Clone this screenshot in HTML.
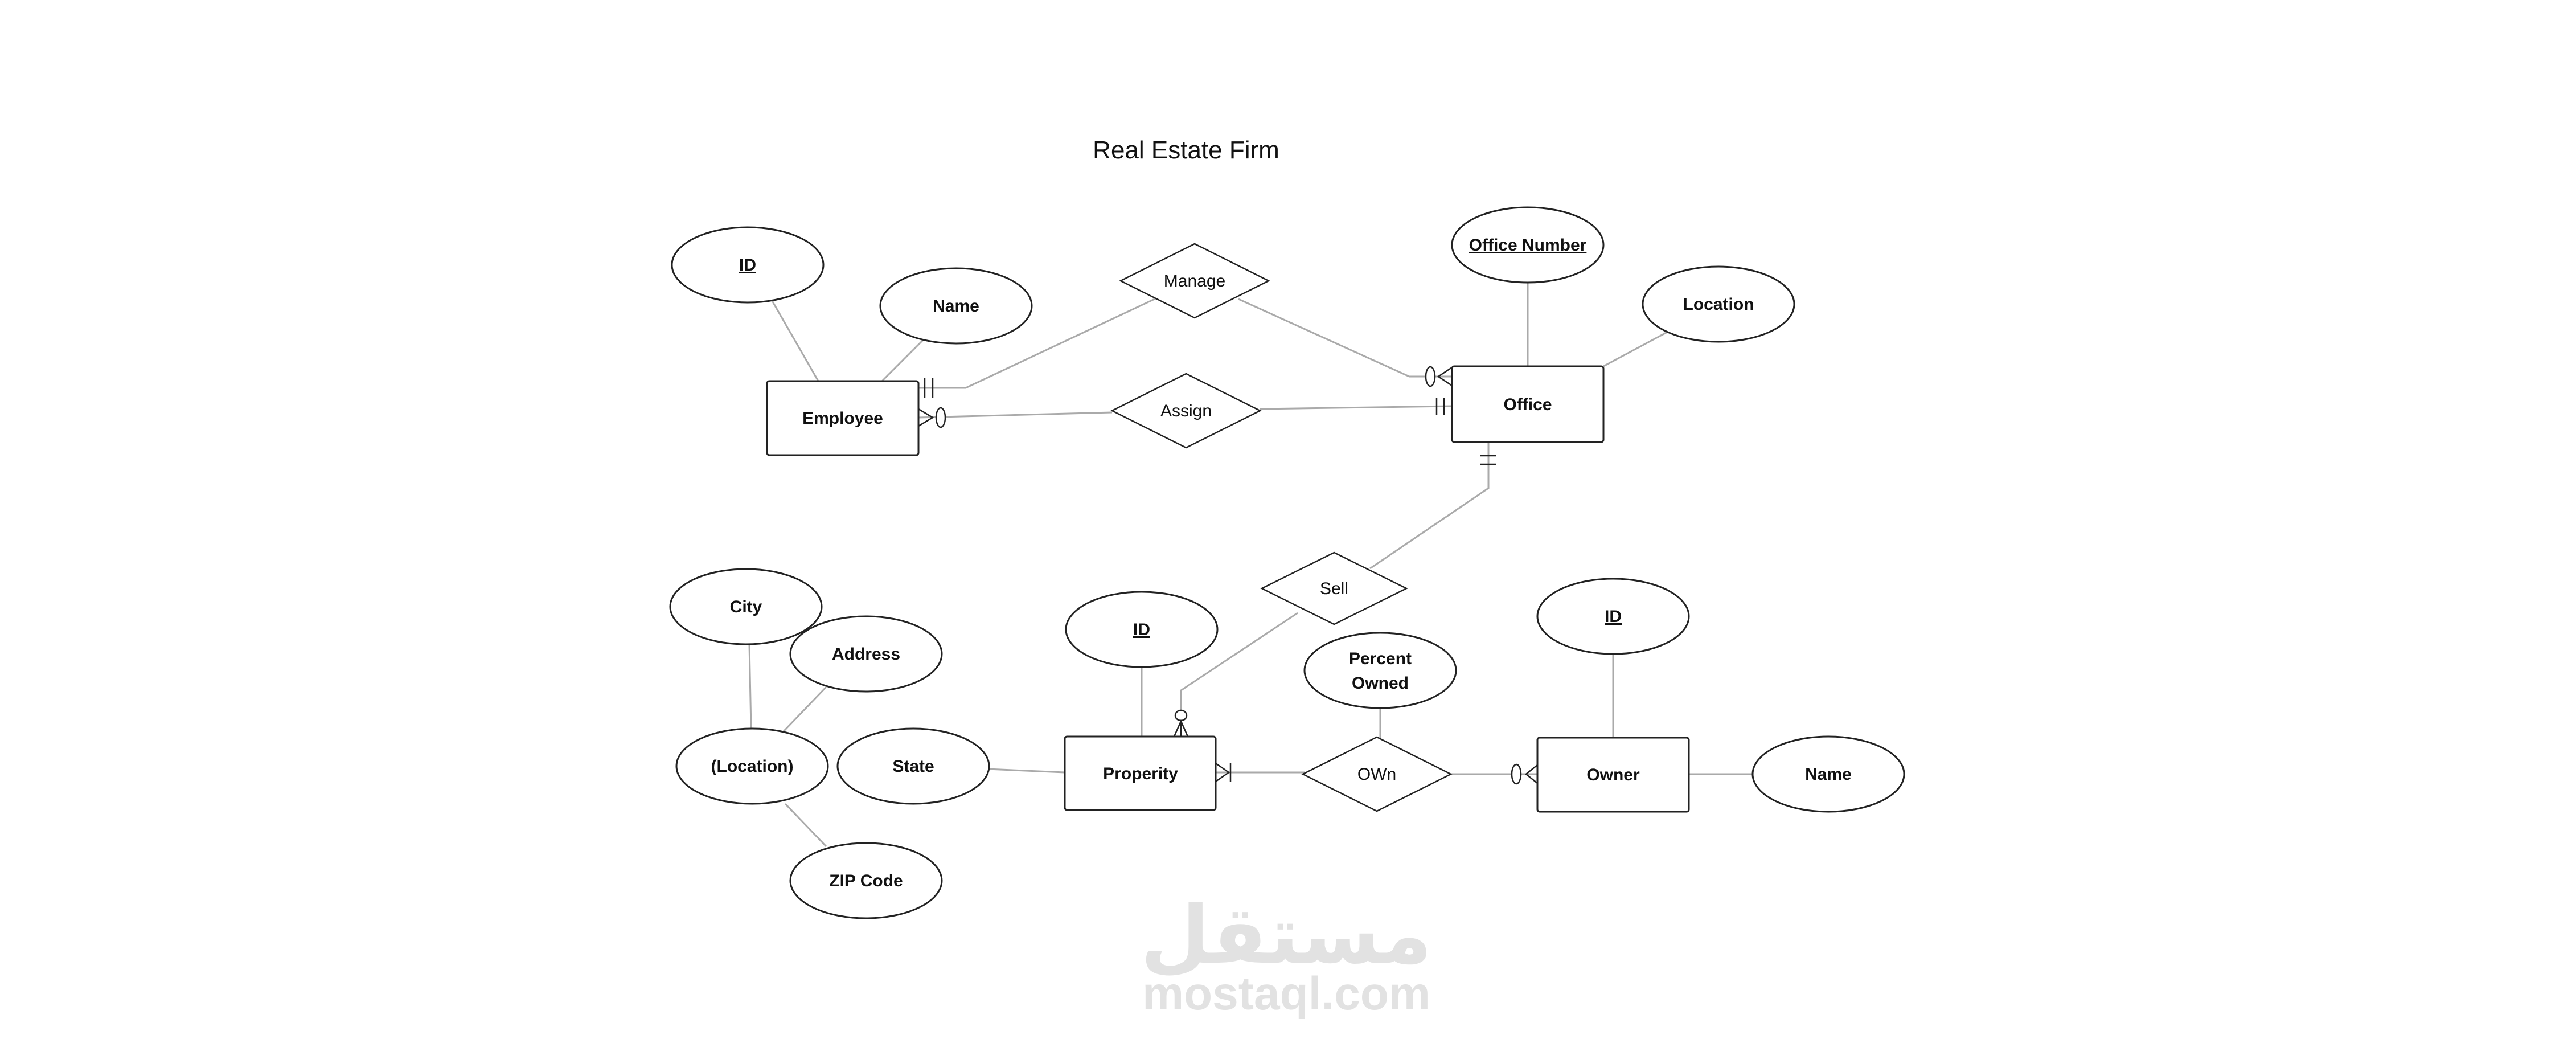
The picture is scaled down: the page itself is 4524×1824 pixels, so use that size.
<!DOCTYPE html>
<html><head><meta charset="utf-8"><style>
html,body{margin:0;padding:0;background:#fff;}
svg{display:block;}
text{font-family:"Liberation Sans","DejaVu Sans",sans-serif;}
</style></head><body>
<svg width="4524" height="1824" viewBox="0 0 4524 1824" xmlns="http://www.w3.org/2000/svg">
<rect width="4524" height="1824" fill="#fff"/>
<text x="2083" y="278" font-size="44" text-anchor="middle" fill="#111">Real Estate Firm</text>

<!-- watermark -->
<text x="2259" y="1690" font-size="140" font-weight="bold" text-anchor="middle" fill="#e2e2e2" font-family="'DejaVu Sans',sans-serif">مستقل</text>
<text x="2259" y="1772" font-size="82" font-weight="bold" text-anchor="middle" fill="#e2e2e2">mostaql.com</text>

<!-- connectors -->
<g stroke="#aaa" stroke-width="3" fill="none">
<line x1="1356" y1="528" x2="1437" y2="669"/>
<line x1="1621" y1="597" x2="1549" y2="669"/>
<polyline points="1613,681 1696,681 2034,522"/>
<polyline points="2175,525 2475,661 2550,661"/>
<line x1="1613" y1="733" x2="1953" y2="724"/>
<line x1="2213" y1="718" x2="2550" y2="713"/>
<line x1="2683" y1="496" x2="2683" y2="643"/>
<line x1="2928" y1="583" x2="2816" y2="643"/>
<polyline points="2614,776 2614,857 2406,998"/>
<polyline points="2279,1076 2074,1212 2074,1293"/>
<line x1="2005" y1="1171" x2="2005" y2="1293"/>
<line x1="1316" y1="1131" x2="1319" y2="1279"/>
<line x1="1451" y1="1206" x2="1376" y2="1284"/>
<line x1="1379" y1="1411" x2="1451" y2="1486"/>
<line x1="1734" y1="1350" x2="1870" y2="1356"/>
<line x1="2135" y1="1356" x2="2291" y2="1356"/>
<line x1="2548" y1="1359" x2="2700" y2="1359"/>
<line x1="2424" y1="1243" x2="2424" y2="1295"/>
<line x1="2833" y1="1148" x2="2833" y2="1295"/>
<line x1="2966" y1="1359" x2="3078" y2="1359"/>
</g>

<!-- cardinality marks -->
<g stroke="#222" stroke-width="2.5" fill="#fff">
<line x1="1624" y1="664" x2="1624" y2="698"/>
<line x1="1638" y1="664" x2="1638" y2="698"/>
<polyline points="1613,718 1638,733 1613,748" fill="none"/>
<ellipse cx="1652" cy="733" rx="8" ry="17"/>
<ellipse cx="2512" cy="661" rx="8" ry="17"/>
<polyline points="2550,645 2526,661 2550,677" fill="none"/>
<line x1="2523" y1="698" x2="2523" y2="728"/>
<line x1="2536" y1="698" x2="2536" y2="728"/>
<line x1="2600" y1="800" x2="2628" y2="800"/>
<line x1="2600" y1="815" x2="2628" y2="815"/>
<ellipse cx="2074" cy="1256" rx="10" ry="9"/>
<polyline points="2062,1293 2074,1266 2086,1293" fill="none"/>
<line x1="2074" y1="1266" x2="2074" y2="1293"/>
<polyline points="2135,1340 2158,1356 2135,1372" fill="none"/>
<line x1="2161" y1="1340" x2="2161" y2="1372"/>
<ellipse cx="2663" cy="1359" rx="8" ry="17"/>
<polyline points="2700,1343 2680,1359 2700,1375" fill="none"/>
</g>

<!-- entities -->
<g stroke="#222" stroke-width="3" fill="#fff">
<rect x="1347" y="669" width="266" height="130" rx="4"/>
<rect x="2550" y="643" width="266" height="133" rx="4"/>
<rect x="1870" y="1293" width="265" height="129" rx="4"/>
<rect x="2700" y="1295" width="266" height="130" rx="4"/>
</g>

<!-- relationships -->
<g stroke="#222" stroke-width="2.5" fill="#fff">
<polygon points="2098,428 2228,493 2098,558 1968,493"/>
<polygon points="2083,656 2213,721 2083,786 1953,721"/>
<polygon points="2343,970 2470,1033 2343,1096 2216,1033"/>
<polygon points="2418,1294 2548,1359 2418,1424 2288,1359"/>
</g>

<!-- attributes -->
<g stroke="#222" stroke-width="3" fill="#fff">
<ellipse cx="1313" cy="465" rx="133" ry="66"/>
<ellipse cx="1679" cy="537" rx="133" ry="66"/>
<ellipse cx="2683" cy="430" rx="133" ry="66"/>
<ellipse cx="3018" cy="534" rx="133" ry="66"/>
<ellipse cx="1310" cy="1065" rx="133" ry="66"/>
<ellipse cx="1521" cy="1148" rx="133" ry="66"/>
<ellipse cx="1321" cy="1345" rx="133" ry="66"/>
<ellipse cx="1604" cy="1345" rx="133" ry="66"/>
<ellipse cx="1521" cy="1546" rx="133" ry="66"/>
<ellipse cx="2005" cy="1105" rx="133" ry="66"/>
<ellipse cx="2424" cy="1177" rx="133" ry="66"/>
<ellipse cx="2833" cy="1082" rx="133" ry="66"/>
<ellipse cx="3211" cy="1359" rx="133" ry="66"/>
</g>

<g font-size="30" font-weight="bold" fill="#111" text-anchor="middle">
<text x="1313" y="475" text-decoration="underline">ID</text>
<text x="1679" y="547">Name</text>
<text x="2683" y="440" text-decoration="underline">Office Number</text>
<text x="3018" y="544">Location</text>
<text x="1480" y="744">Employee</text>
<text x="2683" y="720">Office</text>
<text x="2098" y="503" font-weight="normal">Manage</text>
<text x="2083" y="731" font-weight="normal">Assign</text>
<text x="2343" y="1043" font-weight="normal">Sell</text>
<text x="2418" y="1369" font-weight="normal">OWn</text>
<text x="1310" y="1075">City</text>
<text x="1521" y="1158">Address</text>
<text x="1321" y="1355">(Location)</text>
<text x="1604" y="1355">State</text>
<text x="1521" y="1556">ZIP Code</text>
<text x="2005" y="1115" text-decoration="underline">ID</text>
<text x="2424" y="1166">Percent</text>
<text x="2424" y="1209">Owned</text>
<text x="2833" y="1092" text-decoration="underline">ID</text>
<text x="3211" y="1369">Name</text>
<text x="2003" y="1368">Properity</text>
<text x="2833" y="1370">Owner</text>
</g>
</svg>
</body></html>
